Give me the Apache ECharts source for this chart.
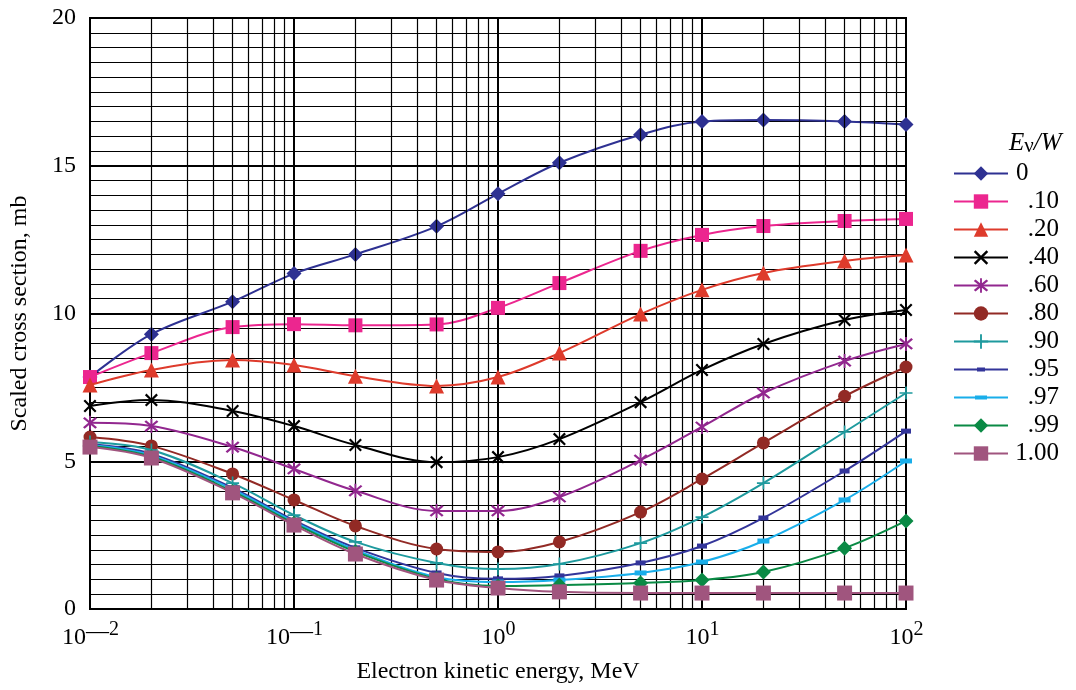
<!DOCTYPE html>
<html>
<head>
<meta charset="utf-8">
<script src="https://cdn.jsdelivr.net/npm/echarts@6/dist/echarts.min.js"></script>
<style>html,body{margin:0;padding:0;background:#fff;}#c{width:1076px;height:690px;}</style>
</head>
<body>
<div id="c"></div>
<script>
// Electron kinetic energy, MeV
const energies = [0.01, 0.02, 0.05, 0.1, 0.2, 0.5, 1, 2, 5, 10, 20, 50, 100];
// Scaled cross section, mb, one array per E_nu/W
const r0   = [7.85, 9.3, 10.4, 11.35, 12.0, 12.95, 14.05, 15.1, 16.05, 16.5, 16.55, 16.5, 16.4];
const r10  = [7.85, 8.66, 9.54, 9.64, 9.6, 9.63, 10.19, 11.03, 12.12, 12.66, 12.96, 13.13, 13.2];
const r20  = [7.58, 8.09, 8.43, 8.26, 7.88, 7.55, 7.85, 8.66, 9.98, 10.8, 11.37, 11.78, 11.98];
const r40  = [6.87, 7.07, 6.7, 6.19, 5.55, 4.97, 5.14, 5.75, 7.0, 8.09, 8.97, 9.78, 10.12];
const r60  = [6.3, 6.19, 5.48, 4.74, 4.0, 3.32, 3.32, 3.79, 5.04, 6.16, 7.31, 8.39, 8.97];
const r80  = [5.82, 5.52, 4.57, 3.69, 2.81, 2.03, 1.93, 2.27, 3.28, 4.4, 5.62, 7.2, 8.19];
const r90  = [5.65, 5.38, 4.26, 3.18, 2.27, 1.56, 1.35, 1.52, 2.23, 3.11, 4.26, 5.99, 7.31];
const r95  = [5.58, 5.25, 4.1, 3.0, 2.07, 1.22, 1.02, 1.12, 1.56, 2.13, 3.08, 4.67, 6.02];
const r97  = [5.55, 5.2, 4.05, 2.95, 2.0, 1.08, 0.91, 0.98, 1.22, 1.59, 2.3, 3.69, 5.01];
const r99  = [5.52, 5.15, 3.98, 2.9, 1.94, 1.02, 0.78, 0.81, 0.88, 0.98, 1.25, 2.06, 2.98];
const r100 = [5.48, 5.11, 3.93, 2.84, 1.86, 0.98, 0.71, 0.58, 0.54, 0.54, 0.54, 0.54, 0.54];
const seriesNames = ['0', '.10', '.20', '.40', '.60', '.80', '.90', '.95', '.97', '.99', '1.00'];
const yTicks = [0, 5, 10, 15, 20];

const FONT = '"Liberation Serif", "DejaVu Serif", serif';
const X_PATH = 'path://M0,1.2L1.2,0L5,3.8L8.8,0L10,1.2L6.2,5L10,8.8L8.8,10L5,6.2L1.2,10L0,8.8L3.8,5Z';
const PLUS_PATH = 'path://M4.35,0H5.65V4.35H10V5.65H5.65V10H4.35V5.65H0V4.35H4.35Z';
const AST_PATH = 'path://M0,1.2L1.2,0L5,3.8L8.8,0L10,1.2L6.2,5L10,8.8L8.8,10L5,6.2L1.2,10L0,8.8L3.8,5ZM4.35,-1H5.65V11H4.35Z';
// legend icons: line with a small dash marker in its middle
const DASH_ICON_S = 'path://M0,8H54V10H0ZM23,7H31V11H23Z';
const DASH_ICON_L = 'path://M0,8H54V10H0ZM21,7H33V11H21Z';

const styles = [
  {color: '#2E3192', symbol: 'diamond', size: 15},
  {color: '#EC268F', symbol: 'rect', size: 14},
  {color: '#DE3B2C', symbol: 'triangle', size: 15},
  {color: '#000000', symbol: X_PATH, size: 13},
  {color: '#92278F', symbol: AST_PATH, size: 14},
  {color: '#922A25', symbol: 'circle', size: 13},
  {color: '#1E9A9E', symbol: PLUS_PATH, size: 13},
  {color: '#33359A', symbol: 'rect', size: [10, 5], legendIcon: DASH_ICON_S},
  {color: '#19AEEA', symbol: 'rect', size: [12, 5], legendIcon: DASH_ICON_L},
  {color: '#0A8A45', symbol: 'diamond', size: 15},
  {color: '#A0557E', symbol: 'rect', size: 15}
];
const values = [r0, r10, r20, r40, r60, r80, r90, r95, r97, r99, r100];

// vertical minor grid lines (2..9 within every decade)
const minorX = [];
[0.01, 0.1, 1, 10].forEach(d => { for (let k = 2; k <= 9; k++) minorX.push(+(d * k).toPrecision(3)); });

const series = [{
  name: '__grid', type: 'line', data: [], silent: true, z: 1,
  markLine: {
    silent: true, symbol: ['none', 'none'], animation: false,
    label: {show: false},
    lineStyle: {color: '#000', type: 'solid', width: 1.2},
    data: minorX.map(v => ({xAxis: v}))
  }
}];
seriesNames.forEach((n, i) => {
  const st = styles[i];
  series.push({
    name: n, type: 'line', z: 3 + i,
    smooth: 0.35,
    data: energies.map((e, j) => [e, values[i][j]]),
    symbol: st.symbol, symbolSize: st.size,
    lineStyle: {color: st.color, width: 2},
    itemStyle: {color: st.color, borderColor: st.color, borderWidth: 0},
    emphasis: {disabled: true},
    animation: false
  });
});

const legendData = seriesNames.map((n, i) => styles[i].legendIcon ? {name: n, icon: styles[i].legendIcon} : {name: n});

const chart = echarts.init(document.getElementById('c'), null, {renderer: 'canvas'});
chart.setOption({
  backgroundColor: '#fff',
  animation: false,
  grid: {left: 88, right: 170, top: 18, bottom: 81, show: true, borderColor: '#000', borderWidth: 2, containLabel: false},
  xAxis: {
    type: 'log', logBase: 10, min: 0.01, max: 100,
    axisLine: {show: true, lineStyle: {color: '#000', width: 2}},
    axisTick: {show: false},
    splitLine: {show: true, lineStyle: {color: '#000', width: 2}},
    axisLabel: {
      margin: 11,
      color: '#000',
      formatter: function (v) {
        const n = Math.round(Math.log10(v));
        const neg = n < 0;
        return '{sp| }{b|10}' + (neg ? '{d|—}' : '') + '{s|' + Math.abs(n) + '}';
      },
      rich: {
        sp: {width: 1, fontSize: 10},
        b: {fontFamily: FONT, fontSize: 24, color: '#000', lineHeight: 30, verticalAlign: 'bottom'},
        d: {fontFamily: FONT, fontSize: 23, color: '#000', lineHeight: 24, verticalAlign: 'top'},
        s: {fontFamily: FONT, fontSize: 20, color: '#000', lineHeight: 18, verticalAlign: 'top'}
      }
    },
    name: 'Electron kinetic energy, MeV',
    nameLocation: 'middle', nameGap: 51,
    nameTextStyle: {fontFamily: FONT, fontSize: 24, color: '#000'}
  },
  yAxis: {
    type: 'value', min: yTicks[0], max: yTicks[yTicks.length - 1], interval: 5,
    axisLine: {show: true, lineStyle: {color: '#000', width: 2}},
    axisTick: {show: false},
    minorTick: {show: false, splitNumber: 10},
    splitLine: {show: true, lineStyle: {color: '#000', width: 2}},
    minorSplitLine: {show: true, lineStyle: {color: '#000', width: 1.2}},
    axisLabel: {margin: 14, fontFamily: FONT, fontSize: 24, color: '#000'},
    name: 'Scaled cross section, mb',
    nameLocation: 'middle', nameGap: 58,
    nameTextStyle: {fontFamily: FONT, fontSize: 24, color: '#000'}
  },
  legend: {
    orient: 'vertical', left: 948, top: 156,
    itemWidth: 54, itemHeight: 18, itemGap: 3,
    data: legendData,
    selectedMode: false,
    formatter: function (n) { return n === '0' ? '{l|0}' : '{r|' + n + '}'; },
    textStyle: {
      fontFamily: FONT, fontSize: 25, color: '#000',
      rich: {
        l: {fontFamily: FONT, fontSize: 25, color: '#000', width: 46, align: 'left', lineHeight: 22, padding: [0, 0, 0, 3]},
        r: {fontFamily: FONT, fontSize: 25, color: '#000', width: 46, align: 'right', lineHeight: 22}
      }
    }
  },
  graphic: [{
    type: 'text', left: 1009, top: 131, z: 10,
    style: {
      text: '{i|E}{n|ν}{i|/W}',
      rich: {
        i: {fontFamily: FONT, fontSize: 25, fontStyle: 'italic', fill: '#000', lineHeight: 26, verticalAlign: 'top'},
        n: {fontFamily: FONT, fontSize: 21, fill: '#000', lineHeight: 22, verticalAlign: 'bottom'}
      }
    }
  }],
  series: series
});
</script>
</body>
</html>
